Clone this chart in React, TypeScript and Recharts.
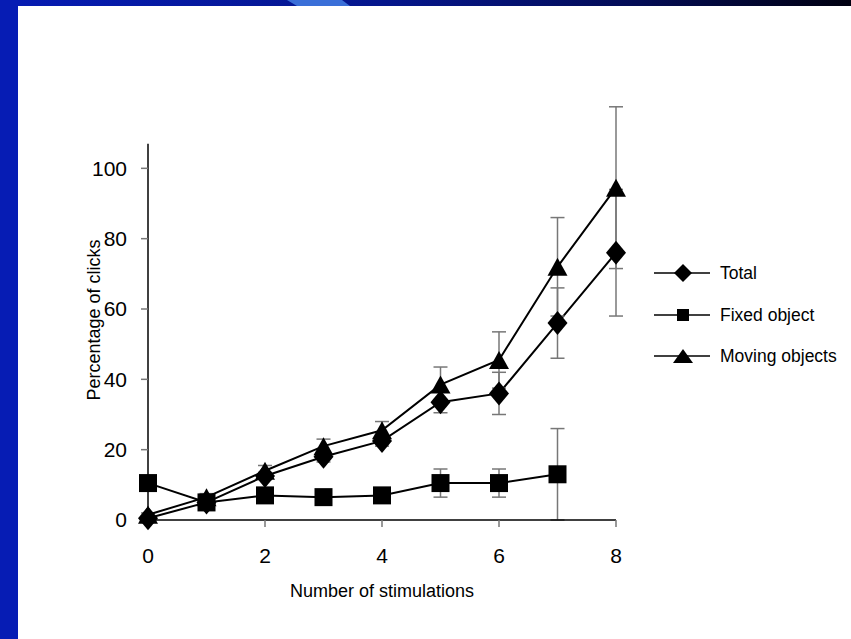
import React from 'react'
import {
  LineChart,
  Line,
  XAxis,
  YAxis,
  ErrorBar,
  ReferenceLine,
} from 'recharts'

// stimulations 0..8
const stimulations = [0, 1, 2, 3, 4, 5, 6, 7, 8]
const totalPct = [0.5, 5, 12.5, 18, 22.5, 33.5, 36, 56, 76]
const totalErr = [0.5, 1, 1, 1.5, 1.5, 3, 6, 10, 18]
const fixedPct = [10.5, 5, 7, 6.5, 7, 10.5, 10.5, 13, null]
const fixedErr = [0, 0, 0, 0, 0.5, 4, 4, 13, null]
const movingPct = [1.5, 6.5, 14, 21, 25.5, 38.5, 45.5, 72, 94.5]
const movingErr = [0.5, 1, 1.5, 2, 2.5, 5, 8, 14, 23]

const xTicks = [0, 2, 4, 6, 8]
const yTicks = [0, 20, 40, 60, 80, 100]
const seriesNames = ['Total', 'Fixed object', 'Moving objects']

const FONT = '"Liberation Sans", Arial, sans-serif'

const data = stimulations.map((s, i) => ({
  stim: s,
  total: totalPct[i],
  totalErr: totalErr[i],
  fixed: fixedPct[i],
  fixedErr: fixedErr[i],
  moving: movingPct[i],
  movingErr: movingErr[i],
}))

function diamondPath(cx: number, cy: number, w: number, h: number) {
  return `M${cx},${cy - h} L${cx + w},${cy} L${cx},${cy + h} L${cx - w},${cy} Z`
}
function trianglePath(cx: number, cy: number, w: number, h: number) {
  return `M${cx},${cy - h} L${cx + w},${cy + h} L${cx - w},${cy + h} Z`
}

const DiamondDot = (props: any) => {
  const { cx, cy, value } = props
  if (value == null || cx == null || cy == null) return null
  return <path d={diamondPath(cx, cy, 10, 12)} fill="#000" />
}
const SquareDot = (props: any) => {
  const { cx, cy, value } = props
  if (value == null || cx == null || cy == null) return null
  return <rect x={cx - 9} y={cy - 9} width={18} height={18} fill="#000" />
}
const TriangleDot = (props: any) => {
  const { cx, cy, value } = props
  if (value == null || cx == null || cy == null) return null
  return <path d={trianglePath(cx, cy, 10, 9)} fill="#000" />
}

function LegendMarker({ idx }: { idx: number }) {
  return (
    <svg width={60} height={24} style={{ display: 'block' }}>
      <line x1={1} y1={12} x2={57} y2={12} stroke="#000" strokeWidth={1.5} />
      {idx === 0 && <path d={diamondPath(30, 12, 9, 9)} fill="#000" />}
      {idx === 1 && <rect x={24} y={6} width={12} height={12} fill="#000" />}
      {idx === 2 && <path d={trianglePath(30, 12, 10, 7)} fill="#000" />}
    </svg>
  )
}

export default function App() {
  return (
    <div
      style={{
        position: 'fixed',
        left: 0,
        top: 0,
        width: 851,
        height: 639,
        background: '#fff',
        overflow: 'hidden',
        fontFamily: FONT,
      }}
    >
      {/* slide decoration */}
      <svg width={851} height={639} style={{ position: 'absolute', left: 0, top: 0 }}>
        <defs>
          <linearGradient id="topBand" x1="0" y1="0" x2="1" y2="0">
            <stop offset="0%" stopColor="#061cb4" />
            <stop offset="45%" stopColor="#05168c" />
            <stop offset="75%" stopColor="#030c55" />
            <stop offset="100%" stopColor="#000010" />
          </linearGradient>
        </defs>
        <rect x={0} y={0} width={851} height={6} fill="url(#topBand)" />
        <path d="M287,0 L342,0 L350,6 L297,6 Z" fill="#3a6fd8" />
        <rect x={0} y={0} width={18} height={639} fill="#061cb4" />
      </svg>

      <div style={{ position: 'absolute', left: 0, top: 0 }}>
        <LineChart
          width={851}
          height={639}
          data={data}
          margin={{ top: 98, right: 235, bottom: 39, left: 88 }}
        >
          <XAxis
            dataKey="stim"
            type="number"
            domain={[0, 8]}
            ticks={xTicks}
            height={80}
            axisLine={{ stroke: '#000', strokeWidth: 1.5 }}
            tickLine={{ stroke: '#777', strokeWidth: 1.5 }}
            tickSize={7}
            tickMargin={21}
            tick={{ fill: '#000', fontSize: 21, fontFamily: FONT }}
            label={{
              content: ({ viewBox }: any) => (
                <text
                  x={viewBox.x + viewBox.width / 2}
                  y={597}
                  textAnchor="middle"
                  fill="#000"
                  fontSize={18}
                  fontFamily={FONT}
                >
                  Number of stimulations
                </text>
              ),
            }}
          />
          <YAxis
            type="number"
            domain={[0, 120]}
            ticks={yTicks}
            width={60}
            axisLine={false}
            tickLine={{ stroke: '#777', strokeWidth: 1.5 }}
            tickSize={7}
            tickMargin={14}
            tick={{ fill: '#000', fontSize: 21, fontFamily: FONT }}
            label={{
              content: () => (
                <text
                  x={100}
                  y={320}
                  transform="rotate(-90 100 320)"
                  textAnchor="middle"
                  fill="#000"
                  fontSize={18}
                  fontFamily={FONT}
                >
                  Percentage of clicks
                </text>
              ),
            }}
          />
          <ReferenceLine
            segment={[
              { x: 0, y: 0 },
              { x: 0, y: 107 },
            ]}
            stroke="#000"
            strokeWidth={1.5}
          />
          <Line
            dataKey="total"
            stroke="#000"
            strokeWidth={2}
            dot={<DiamondDot />}
            activeDot={false}
            isAnimationActive={false}
          >
            <ErrorBar dataKey="totalErr" direction="y" width={7} stroke="#777" strokeWidth={1.5} isAnimationActive={false} />
          </Line>
          <Line
            dataKey="fixed"
            stroke="#000"
            strokeWidth={2}
            dot={<SquareDot />}
            activeDot={false}
            isAnimationActive={false}
          >
            <ErrorBar dataKey="fixedErr" direction="y" width={7} stroke="#777" strokeWidth={1.5} isAnimationActive={false} />
          </Line>
          <Line
            dataKey="moving"
            stroke="#000"
            strokeWidth={2}
            dot={<TriangleDot />}
            activeDot={false}
            isAnimationActive={false}
          >
            <ErrorBar dataKey="movingErr" direction="y" width={7} stroke="#777" strokeWidth={1.5} isAnimationActive={false} />
          </Line>
        </LineChart>
      </div>

      {/* legend */}
      <div style={{ position: 'absolute', left: 653, top: 261 }}>
        {seriesNames.map((name, i) => (
          <div key={name} style={{ display: 'flex', alignItems: 'center', height: 24, marginBottom: i < 2 ? 17.5 : 0 }}>
            <LegendMarker idx={i} />
            <span style={{ fontSize: 17.5, color: '#000', marginLeft: 7, lineHeight: '24px' }}>{name}</span>
          </div>
        ))}
      </div>
    </div>
  )
}
